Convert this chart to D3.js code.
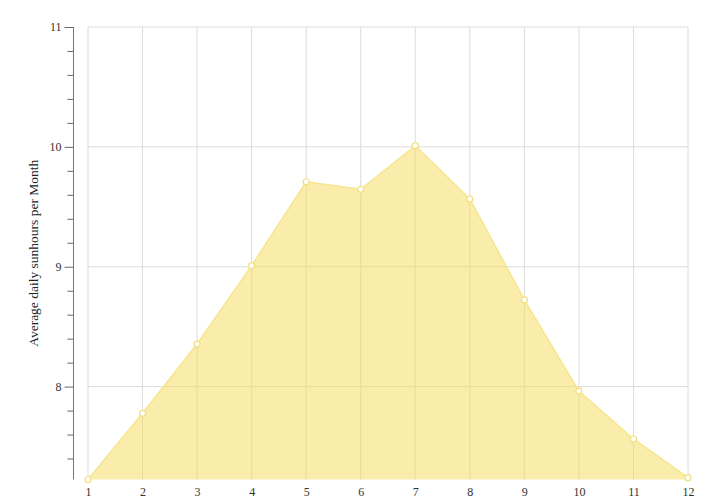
<!DOCTYPE html>
<html>
<head>
<meta charset="utf-8">
<script src="https://cdn.jsdelivr.net/npm/d3@7"></script>
<style>
  html, body { margin: 0; padding: 0; background: #fff; }
  svg { display: block; }
  text { font-family: "Liberation Serif", "Times New Roman", serif; }
</style>
</head>
<body>
<svg id="chart" width="717" height="502"></svg>
<script>
const months = [1, 2, 3, 4, 5, 6, 7, 8, 9, 10, 11, 12];
const sunhours = [7.225, 7.777, 8.355, 9.009, 9.709, 9.646, 10.01, 9.565, 8.723, 7.963, 7.563, 7.24];
const yMajorTicks = [8, 9, 10, 11];
const yAxisMax = 11;
const yLabel = "Average daily sunhours per Month";

const svg = d3.select("#chart");
const margin = { top: 27, right: 29, bottom: 22.5, left: 88 };
const W = 717, H = 502;

const x = d3.scaleLinear()
  .domain(d3.extent(months))
  .range([margin.left, W - margin.right]);
const y = d3.scaleLinear()
  .domain([d3.min(sunhours), yAxisMax])
  .range([H - margin.bottom, margin.top]);

// grid
const grid = svg.append("g");
grid.selectAll("line.v").data(months).join("line")
  .attr("x1", d => x(d)).attr("x2", d => x(d))
  .attr("y1", y.range()[1]).attr("y2", y.range()[0])
  .attr("stroke", "#dcdcdc").attr("stroke-width", 1);
grid.selectAll("line.h").data(yMajorTicks).join("line")
  .attr("x1", x.range()[0]).attr("x2", x.range()[1])
  .attr("y1", d => y(d)).attr("y2", d => y(d))
  .attr("stroke", "#dcdcdc").attr("stroke-width", 1);

const data = months.map((m, i) => ({ m, v: sunhours[i] }));

// area
const area = d3.area()
  .x(d => x(d.m))
  .y0(y.range()[0])
  .y1(d => y(d.v));
svg.append("path")
  .datum(data)
  .attr("d", area)
  .attr("fill", "#f5dc5a")
  .attr("fill-opacity", 0.5);

const line = d3.line().x(d => x(d.m)).y(d => y(d.v));
svg.append("path")
  .datum(data)
  .attr("d", line)
  .attr("fill", "none")
  .attr("stroke", "#f7e58e")
  .attr("stroke-width", 1.5);

// points
svg.selectAll("circle.pt").data(data).join("circle")
  .attr("cx", d => x(d.m)).attr("cy", d => y(d.v))
  .attr("r", 3)
  .attr("fill", "#fff")
  .attr("stroke", "#f3df7e")
  .attr("stroke-width", 1.2);

// y axis: minor ticks
const minorTicks = d3.range(Math.ceil(d3.min(sunhours) * 5) / 5, yAxisMax + 0.001, 0.2)
  .filter(t => Math.abs(t - Math.round(t)) > 0.01);
const yAxisMinor = d3.axisLeft(y).tickValues(minorTicks).tickSize(6).tickFormat("");
const yAxisMajor = d3.axisLeft(y).tickValues(yMajorTicks).tickSize(9).tickPadding(3).tickFormat(d3.format("d"));

const axX = 73.5;
const gMinor = svg.append("g").attr("transform", `translate(${axX},0)`).call(yAxisMinor);
gMinor.select(".domain").remove();
gMinor.selectAll("line").attr("stroke", "#666");

const gMajor = svg.append("g").attr("transform", `translate(${axX},0)`).call(yAxisMajor);
gMajor.select(".domain")
  .attr("d", `M0,${y.range()[1]}V${y.range()[0]}`)
  .attr("stroke", "#777");
gMajor.selectAll("line").attr("stroke", "#666");
gMajor.selectAll("text")
  .attr("font-family", "Liberation Serif, serif")
  .attr("font-size", 12)
  .attr("fill", "#333");

// x axis labels (no line)
const xAxis = d3.axisBottom(x).tickValues(months).tickSize(0).tickPadding(8).tickFormat(d3.format("d"));
const gX = svg.append("g").attr("transform", `translate(0,${y.range()[0]})`).call(xAxis);
gX.select(".domain").remove();
gX.selectAll("text")
  .attr("font-family", "Liberation Serif, serif")
  .attr("font-size", 12)
  .attr("fill", "#333");

// y label
svg.append("text")
  .attr("transform", `translate(38,${(y.range()[0] + y.range()[1]) / 2}) rotate(-90)`)
  .attr("text-anchor", "middle")
  .attr("font-size", 13.5)
  .attr("fill", "#222")
  .text(yLabel);
</script>
</body>
</html>
